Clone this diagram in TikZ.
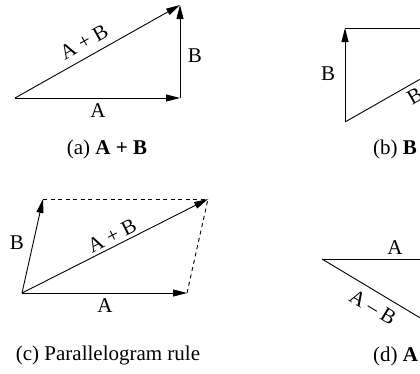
\documentclass[tikz,border=0pt]{standalone}
\usepackage{fontspec}
\setmainfont{Liberation Serif}
\usetikzlibrary{arrows.meta}
\begin{document}
\begin{tikzpicture}[x=1pt,y=-1pt,
  vec/.style={line width=0.9pt,-{Triangle[length=14pt,width=7pt]}},
  plain/.style={line width=0.9pt},
  dsh/.style={line width=0.9pt,dash pattern=on 4pt off 3.5pt},
  lbl/.style={inner sep=0pt,font=\fontsize{21}{25}\selectfont},
  captext/.style={inner sep=0pt,font=\fontsize{21}{25}\selectfont}]
\useasboundingbox (0,0) rectangle (420,373);
% (a)
\coordinate (aO) at (15,98);
\coordinate (aA) at (180,98);
\coordinate (aB) at (180,5);
\draw[vec] (aO) -- (aA);
\draw[vec] (aA) -- (aB);
\draw[vec] (aO) -- (aB);
\node[lbl,rotate=29.4] (aSum) at (84,42) {A + B};
\node[lbl] (aBl) at (195,56) {B};
\node[lbl] (aAl) at (98,111) {A};
\node[captext,anchor=base] (capA) at (107,154) {(a) \textbf{A + B}};
% (b)
\coordinate (bO) at (345,122);
\coordinate (bB) at (345,28);
\coordinate (bE) at (510,28);
\draw[vec] (bO) -- (bB);
\draw[vec] (bB) -- (bE);
\draw[vec] (bO) -- (bE);
\node[lbl] (bBl) at (328,74) {B};
\node[lbl,rotate=30] (bSum) at (431,87) {B + A};
\node[captext,anchor=base west] (capB) at (373,154) {(b) \textbf{B + A}};
% (c)
\coordinate (cO) at (22,293);
\coordinate (cB) at (43,199);
\coordinate (cA) at (187,293);
\coordinate (cS) at (208,199);
\draw[dsh] (cB) -- (cS);
\draw[dsh] (cA) -- (cS);
\draw[vec] (cO) -- (cB);
\draw[vec] (cO) -- (cA);
\draw[vec] (cO) -- (cS);
\node[lbl] (cBl) at (17,243) {B};
\node[lbl] (cAl) at (105,306) {A};
\node[lbl,rotate=26.8] (cSum) at (112,236) {A + B};
\node[captext,anchor=base] (capC) at (108,360) {(c) Parallelogram rule};
% (d)
\coordinate (dO) at (322,259);
\coordinate (dA) at (487,259);
\coordinate (dD) at (487,358);
\draw[plain] (dO) -- (dA);
\draw[plain] (dO) -- (dD);
\node[lbl] (dAl) at (395,248) {A};
\node[lbl,rotate=-31] (dDiff) at (373,307) {A -- B};
\node[captext,anchor=base west] (capD) at (373,361) {(d) \textbf{A -- B}};
\end{tikzpicture}
\end{document}
